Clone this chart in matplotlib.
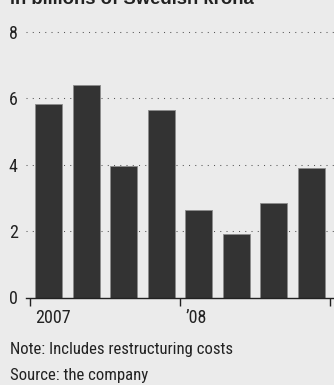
"""Quarterly bar chart, in billions of Swedish krona, 2007-08."""

import matplotlib

matplotlib.use("Agg")

import matplotlib.pyplot as plt
from matplotlib.transforms import ScaledTranslation

# quarterly values, billions of krona
quarters = ["Q1 2007", "Q2 2007", "Q3 2007", "Q4 2007",
            "Q1 2008", "Q2 2008", "Q3 2008", "Q4 2008"]
values = [5.83, 6.41, 3.97, 5.63, 2.64, 1.92, 2.85, 3.89]

year_ticks = [0, 4, 8]
year_labels = ["2007", "\u201908", ""]
y_ticks = [0, 2, 4, 6, 8]

BG = "#ebebeb"
BAR = "#333333"
INK = "#222222"
FONT = ["Roboto Condensed", "DejaVu Sans"]

plt.rcParams["font.family"] = FONT

fig = plt.figure(figsize=(3.34, 3.85), dpi=100, facecolor=BG)
ax = fig.add_axes([26 / 334, 87.5 / 385, 308 / 334, 282.4 / 385])
ax.set_facecolor(BG)

x = [i + 0.5 for i in range(len(values))]
ax.bar(x, values, width=0.72, color=BAR, edgecolor="#8c8c8c", linewidth=0.6, zorder=3)

ax.set_xlim(-0.107, 8.107)
ax.set_ylim(0, 8.5)

# dotted gridlines
for v in y_ticks[1:]:
    ax.axhline(v, color="#555555", linestyle=(0, (1, 5)), linewidth=0.75, zorder=1)

for side in ("top", "right", "left"):
    ax.spines[side].set_visible(False)
ax.spines["bottom"].set_color(INK)
ax.spines["bottom"].set_linewidth(1.0)
ax.spines["bottom"].set_zorder(4)

ax.set_yticks(y_ticks)
ax.set_yticklabels([str(v) for v in y_ticks])
ax.tick_params(axis="y", length=0, pad=6, labelsize=13, labelcolor=INK)

ax.set_xticks(year_ticks)
ax.set_xticklabels(year_labels)
ax.tick_params(axis="x", length=6, width=1.0, color=INK, pad=2,
               labelsize=13, labelcolor=INK)
offset = ScaledTranslation(5 / 100, 0, fig.dpi_scale_trans)
for lbl in ax.get_xticklabels():
    lbl.set_horizontalalignment("left")
    lbl.set_transform(lbl.get_transform() + offset)

fig.text(10 / 334, 1 - 4.5 / 385, "in billions of Swedish krona", fontsize=13.3,
         family=["Liberation Sans", "DejaVu Sans"], fontweight="bold",
         color=INK, va="baseline", ha="left")
fig.text(10 / 334, 1 - 354 / 385, "Note: Includes restructuring costs",
         fontsize=12.1, color=INK, va="baseline", ha="left")
fig.text(10 / 334, 1 - 380 / 385, "Source: the company",
         fontsize=12.1, color=INK, va="baseline", ha="left")

fig.savefig("out.png", dpi=100, facecolor=BG)
